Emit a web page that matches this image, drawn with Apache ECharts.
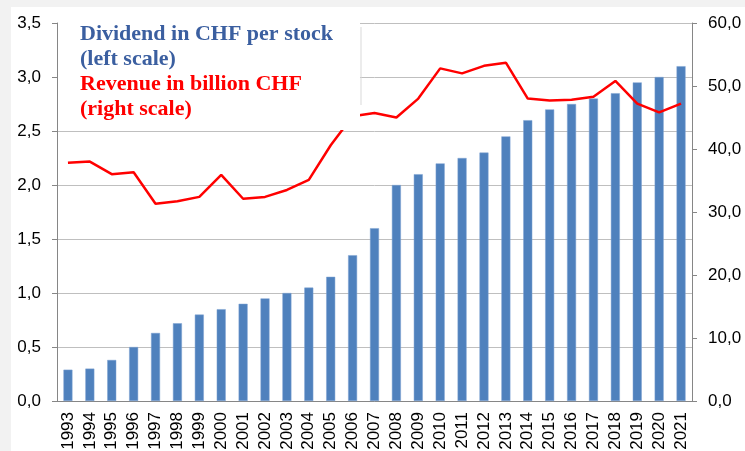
<!DOCTYPE html>
<html>
<head>
<meta charset="utf-8">
<script src="https://cdn.jsdelivr.net/npm/echarts@6/dist/echarts.min.js"></script>
<style>
  html, body { margin: 0; padding: 0; background: #f2f2f2; }
  #chart { position: absolute; left: 11px; top: 7px; width: 734px; height: 444px; background: #fff; }
</style>
</head>
<body>
<div id="chart"></div>
<script>
// years on the x axis
const years = ['1993', '1994', '1995', '1996', '1997', '1998', '1999', '2000', '2001', '2002',
  '2003', '2004', '2005', '2006', '2007', '2008', '2009', '2010', '2011', '2012',
  '2013', '2014', '2015', '2016', '2017', '2018', '2019', '2020', '2021'];

// dividend in CHF per stock (left scale)
const dividend = [0.29, 0.30, 0.38, 0.50, 0.63, 0.72, 0.80, 0.85, 0.90, 0.95,
  1.00, 1.05, 1.15, 1.35, 1.60, 2.00, 2.10, 2.20, 2.25, 2.30,
  2.45, 2.60, 2.70, 2.75, 2.80, 2.85, 2.95, 3.00, 3.10];

// revenue in billion CHF (right scale)
const revenue = [37.8, 38.0, 36.0, 36.3, 31.3, 31.7, 32.4, 35.9, 32.1, 32.4,
  33.5, 35.1, 40.6, 45.2, 45.7, 45.0, 48.0, 52.8, 52.0, 53.2,
  53.7, 48.0, 47.7, 47.8, 48.3, 50.8, 47.2, 45.8, 47.2];

// legend text lines
const legendLines = [
  { text: 'Dividend in CHF per stock', color: '#3b5fa0' },
  { text: '(left scale)', color: '#3b5fa0' },
  { text: 'Revenue in billion CHF', color: '#ff0000' },
  { text: '(right scale)', color: '#ff0000' }
];

const comma = v => v.toFixed(1).replace('.', ',');
const axisGray = '#868686';
const labelStyle = { color: '#000', fontFamily: 'Liberation Sans, Arial, sans-serif', fontSize: 17 };

const chart = echarts.init(document.getElementById('chart'));

const graphic = [
  {
    type: 'rect', z: 100,
    shape: { x: 47, y: 0, width: 302, height: 123 },
    style: { fill: '#fff' }
  },
  {
    type: 'line', z: 101,
    shape: { x1: 350, y1: 20, x2: 350, y2: 98 },
    style: { stroke: '#d9d9d9', lineWidth: 1 }
  }
];
legendLines.forEach((l, i) => {
  graphic.push({
    type: 'text', z: 102,
    x: 69, y: 27 + i * 25,
    style: {
      text: l.text, fill: l.color,
      font: 'bold 22px "Liberation Serif", "DejaVu Serif", serif',
      verticalAlign: 'middle'
    }
  });
});

chart.setOption({
  animation: false,
  grid: { left: 46, right: 53, top: 16, bottom: 50, outerBoundsMode: 'none' },
  xAxis: {
    type: 'category',
    data: years,
    axisLine: { lineStyle: { color: axisGray } },
    axisTick: { interval: 0, length: 5, lineStyle: { color: axisGray } },
    axisLabel: { interval: 0, rotate: 90, margin: 11, ...labelStyle }
  },
  yAxis: [
    {
      type: 'value', min: 0, max: 3.5, interval: 0.5,
      axisLine: { show: true, lineStyle: { color: axisGray } },
      axisTick: { show: true, length: 5, lineStyle: { color: axisGray } },
      splitLine: { lineStyle: { color: '#bfbfbf' } },
      axisLabel: { margin: 16, formatter: comma, ...labelStyle }
    },
    {
      type: 'value', min: 0, max: 60, interval: 10,
      axisLine: { show: true, lineStyle: { color: axisGray } },
      axisTick: { show: true, length: 5, lineStyle: { color: axisGray } },
      splitLine: { show: false },
      axisLabel: { margin: 16, formatter: comma, ...labelStyle }
    }
  ],
  series: [
    {
      name: 'Dividend', type: 'bar', yAxisIndex: 0,
      data: dividend, barWidth: 9,
      itemStyle: { color: '#4f81bd', borderColor: '#7fa3d3', borderWidth: 0.5 }
    },
    {
      name: 'Revenue', type: 'line', yAxisIndex: 1,
      data: revenue, symbol: 'none', z: 5,
      lineStyle: { color: '#ff0000', width: 2.5 }
    }
  ],
  graphic: graphic
});
</script>
</body>
</html>
